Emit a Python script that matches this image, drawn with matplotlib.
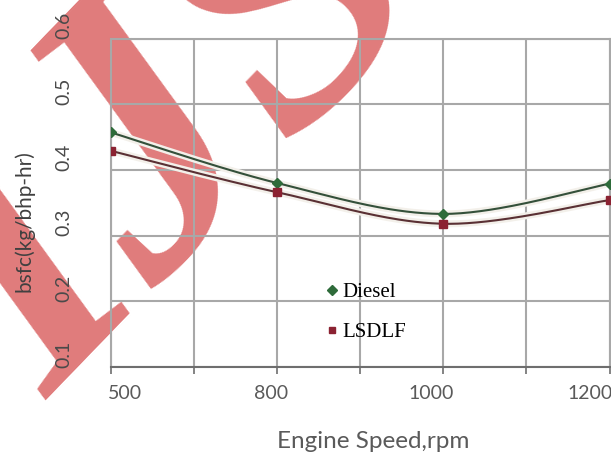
import numpy as np
import matplotlib.pyplot as plt
from matplotlib import patheffects as pe
from matplotlib.lines import Line2D
from matplotlib.transforms import ScaledTranslation

# bsfc vs engine speed, two fuels
speeds = ["500", "800", "1000", "1200"]
diesel = [0.457, 0.380, 0.333, 0.379]
lsdlf = [0.429, 0.366, 0.318, 0.354]
yticks = [0.1, 0.2, 0.3, 0.4, 0.5, 0.6]

DPI = 100
GRID = "#a8a8a8"


def smooth(y, n=60):
    # spreadsheet-style smoothed line: Bezier segments with 1/6 tangents
    pts = np.column_stack([np.arange(len(y), dtype=float), np.asarray(y, float)])
    t = np.linspace(0, 1, n)[:, None]
    parts = []
    for i in range(len(pts) - 1):
        p0 = pts[max(i - 1, 0)]
        p1, p2 = pts[i], pts[i + 1]
        p3 = pts[min(i + 2, len(pts) - 1)]
        c1 = p1 + (p2 - p0) / 6
        c2 = p2 - (p3 - p1) / 6
        seg = (1 - t) ** 3 * p1 + 3 * (1 - t) ** 2 * t * c1 + 3 * (1 - t) * t ** 2 * c2 + t ** 3 * p2
        parts.append(seg if i == 0 else seg[1:])
    s = np.vstack(parts)
    return s[:, 0], s[:, 1]


fig = plt.figure(figsize=(6.11, 4.59), dpi=DPI)
fig.patch.set_facecolor("white")

# red journal stamp behind the chart
fig.text(50 / 611, 1 - 400 / 459, "IJSER", fontsize=280, family="Liberation Serif",
         style="italic", weight="bold", color="#e07b7b", rotation=46,
         rotation_mode="anchor", ha="left", va="baseline", zorder=0.5)

ax = fig.add_axes([111 / 611, 1 - 367 / 459, (609.5 - 111) / 611, (367 - 38.5) / 459])
ax.set_zorder(1)
ax.set_facecolor("none")

halo = [pe.Stroke(linewidth=5, foreground="#f3f0ea"), pe.Normal()]
for vals, lc, mc, mk in [(diesel, "#34503a", "#2e6b3a", "D"),
                         (lsdlf, "#5a3034", "#8b2232", "s")]:
    xs, ys = smooth(vals)
    ax.plot(xs, ys, color=lc, lw=1.5, path_effects=halo, zorder=3, solid_capstyle="round")
    ax.plot(range(len(vals)), vals, ls="none", marker=mk, ms=5.5, color=mc, zorder=4)

ax.set_xlim(0, len(speeds) - 1)
ax.set_ylim(0.1, 0.6)
ax.set_xticks(np.arange(0, len(speeds) - 0.9, 0.5))
ax.set_xticklabels([s if i % 2 == 0 else "" for i, s in
                    enumerate(np.repeat(speeds, 2)[:-1])])
ax.set_yticks(yticks)
ax.set_yticklabels([f"{v:.1f}" for v in yticks])
ax.grid(True, color=GRID, lw=1.5)
for side in ["top", "left", "right"]:
    ax.spines[side].set_color(GRID)
    ax.spines[side].set_linewidth(1.5)
ax.spines["bottom"].set_color("#6e6e6e")
ax.spines["bottom"].set_linewidth(1.5)

ax.tick_params(axis="x", length=5, width=1.2, color="#6e6e6e", pad=8,
               labelsize=14, labelcolor="#5a5a5a")
ax.tick_params(axis="y", length=0, pad=28, labelsize=14, labelcolor="#4a4a4a")

# category labels sit slightly off their ticks
label_shift = [14, 0, -6, 0, -12, 0, -19]
for lab, dx in zip(ax.get_xticklabels(), label_shift):
    lab.set_family("Lato")
    lab.set_transform(lab.get_transform() + ScaledTranslation(dx / DPI, 0, fig.dpi_scale_trans))
for lab in ax.get_yticklabels():
    lab.set_family("Lato")
    lab.set_rotation(90)
    lab.set_va("center")
    lab.set_transform(lab.get_transform() + ScaledTranslation(0, 13 / DPI, fig.dpi_scale_trans))

fig.text(373 / 611, 1 - 441 / 459, "Engine Speed,rpm", family="Lato", fontsize=17.5,
         color="#5a5a5a", ha="center", va="center")
fig.text(24 / 611, 1 - 221 / 459, "bsfc(kg/bhp-hr)", family="Lato", fontsize=15,
         color="#404040", ha="center", va="center", rotation=90)

handles = [Line2D([], [], ls="none", marker="D", ms=5, color="#2e6b3a"),
           Line2D([], [], ls="none", marker="s", ms=5, color="#8b2232")]
ax.legend(handles, ["Diesel", "LSDLF"], loc="upper left",
          bbox_to_anchor=(315 / 611, 1 - 272 / 459), bbox_transform=fig.transFigure,
          frameon=False, borderpad=0, handlelength=0.6, handletextpad=0.2,
          labelspacing=1.0, prop={"family": "Liberation Serif", "size": 15})

fig.savefig("out.png", dpi=DPI)
